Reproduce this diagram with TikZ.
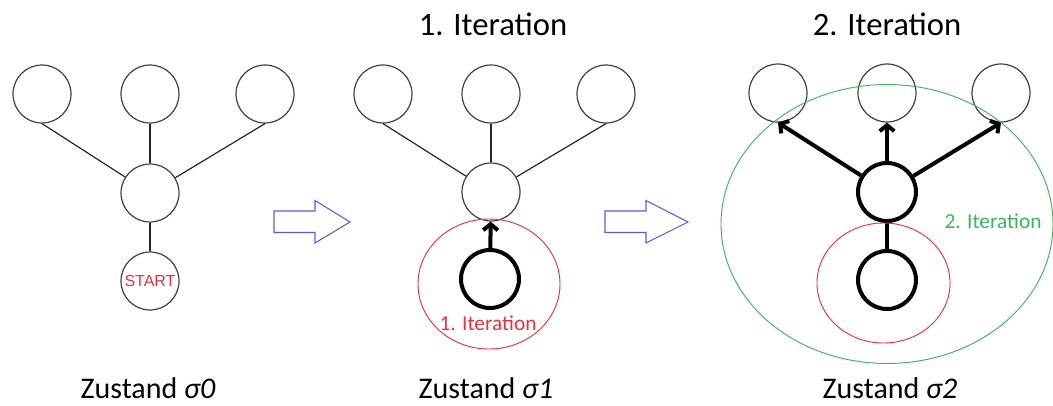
\documentclass[tikz,border=0pt]{standalone}
\usepackage{fontspec}
\setmainfont{Carlito}
\newfontfamily\arialfont{Liberation Sans}
\usetikzlibrary{arrows.meta}
\definecolor{flowblue}{RGB}{85,95,220}
\definecolor{iterred}{RGB}{240,45,60}
\definecolor{itergreen}{RGB}{60,180,90}
\begin{document}
\begin{tikzpicture}[x=0.75pt, y=-0.75pt,
      every node/.style={font=\fontsize{24.5}{28}\selectfont},
      state/.style={circle, draw=black!75, line width=0.9pt, minimum size=43.5pt, inner sep=0pt},
      visited/.style={state, draw=black, line width=3pt},
      link/.style={draw=black!85, line width=0.9pt},
      strong/.style={draw=black, line width=3pt},
      move/.style={strong, -{Straight Barb[length=4.5pt, width=11pt]}},
      flow/.style={draw=flowblue, line width=0.8pt},
      caption/.style={anchor=base, font=\fontsize{22.5}{26}\selectfont},
      itlabel/.style={anchor=base, font=\fontsize{16}{19}\selectfont}
  ]
    \useasboundingbox (0,0) rectangle (1053,405);

    % Zustand sigma0
    \node[state] (al) at (42,94) {};
    \node[state] (am) at (150,94) {};
    \node[state] (ar) at (265,94) {};
    \node[state] (ac) at (150,193) {};
    \node[state, font=\arialfont\fontsize{12}{14}\selectfont, text=iterred] (as) at (150,281) {START};
    \foreach \x in {al,am,ar} {
      \draw[link] (ac) -- (\x.south);
    }
    \draw[link] (ac) -- (as);

    % Zustand sigma1
    \node[state] (bl) at (383,94) {};
    \node[state] (bm) at (491,94) {};
    \node[state] (br) at (606,94) {};
    \node[state] (bc) at (491,192) {};
    \node[visited] (bs) at (490,279) {};
    \foreach \x in {bl,bm,br} {
      \draw[link] (bc) -- (\x.south);
    }
    \draw[move] (bs) -- (bc);
    \draw[iterred, line width=0.7pt] (489,284) ellipse [x radius=53.25pt, y radius=48.75pt];
    \node[itlabel, text=iterred] (bi) at (488,330) {1. Iteration};

    % Zustand sigma2
    \node[state] (cl) at (778,93) {};
    \node[state] (cm) at (887,93) {};
    \node[state] (cr) at (1001,93) {};
    \node[visited] (cc) at (887,192) {};
    \node[visited] (cs) at (887,280) {};
    \foreach \x in {cl,cm,cr} {
      \draw[move] (cc) -- (\x.south);
    }
    \draw[strong] (cs) -- (cc);
    \draw[iterred, line width=0.7pt] (883.5,283) ellipse [x radius=49.9pt, y radius=45pt];
    \draw[itergreen, line width=0.7pt] (887,224) ellipse [x radius=124.5pt, y radius=104.6pt];
    \node[itlabel, text=itergreen] (ci) at (993,228) {2. Iteration};

    % Pfeile zwischen den Zustaenden
    \foreach \a/\b/\c in {274/315/350, 605/646/688} {
      \draw[flow] (\a,211) -- (\b,211) -- (\b,200.5) -- (\c,222) -- (\b,243) -- (\b,232.5) -- (\a,232.5) -- cycle;
    }

    \node[anchor=base] (t1) at (493,35) {1. Iteration};
    \node[anchor=base] (t2) at (887,35) {2. Iteration};
    \node[caption] (z0) at (148,398) {Zustand \textit{σ0}};
    \node[caption] (z1) at (486,398) {Zustand \textit{σ1}};
    \node[caption] (z2) at (890,398) {Zustand \textit{σ2}};
  \end{tikzpicture}
\end{document}
